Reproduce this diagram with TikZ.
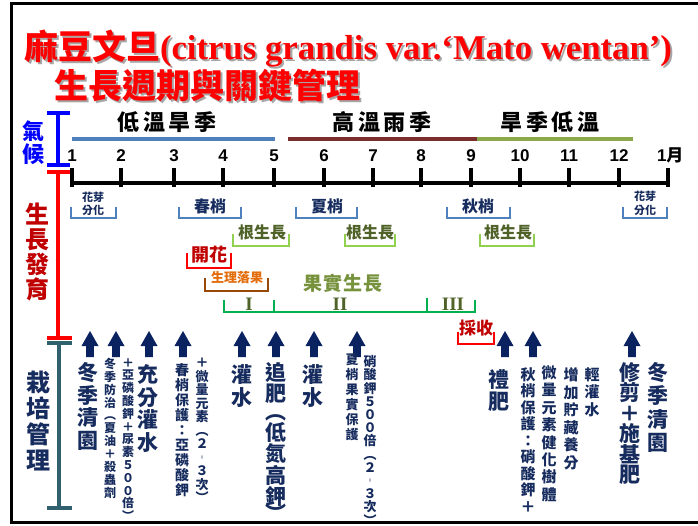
\documentclass[tikz,border=0pt]{standalone}
\usepackage{fontspec}
\usepackage{graphicx}
\newfontfamily\cjk{Noto Sans CJK TC}
\newfontfamily\arialf{Liberation Sans}
\newfontfamily\timesf{Liberation Serif}
\definecolor{txtnavy}{HTML}{172C5E}
\definecolor{arrnavy}{HTML}{0A2260}
\definecolor{brkblue}{HTML}{4F81BD}
\definecolor{barred}{HTML}{7A2E2E}
\definecolor{bargreen}{HTML}{8CA848}
\definecolor{rootgreen}{HTML}{92D050}
\definecolor{olivetxt}{HTML}{4F6228}
\definecolor{fruittxt}{HTML}{76923C}
\definecolor{darkred}{HTML}{C00000}
\definecolor{dropbrown}{HTML}{984807}
\definecolor{droporange}{HTML}{E46C0A}
\definecolor{fruitgreen}{HTML}{00B050}
\definecolor{tealbar}{HTML}{31606E}
\definecolor{pureblue}{HTML}{0000FF}
\definecolor{purered}{HTML}{FF0000}

\newdimen\vsk
\def\sk{}
\def\vtloop#1{\ifx\relax#1\else\ifx\sk#1\kern-\vsk\else\hbox to 0pt{\hss#1\hss}\fi\expandafter\vtloop\fi}
\newcommand\vcol[2]{\vtop{\baselineskip=#1\lineskiplimit=-100pt\vsk=4pt\relax\vtloop#2\relax}}
\newdimen\spk
\def\sploop#1{\ifx\relax#1\else#1\kern\spk\expandafter\sploop\fi}
\newcommand\spaced[2]{\spk=#1\relax\sploop#2\relax\kern-\spk}
\newcommand\shadowtxt[1]{\makebox[0pt][l]{\hspace{2pt}\raisebox{-2pt}{\color{black!35}#1}}#1}

\begin{document}
\begin{tikzpicture}[x=1pt,y=-1pt,
  every node/.style={inner sep=0pt,outer sep=0pt},
  vt/.style={anchor=base,text=txtnavy,font=\cjk\bfseries\fontsize{#1}{#1}\selectfont},
  cj/.style={font=\cjk\bfseries\fontsize{#1}{#1}\selectfont},
  brk/.style={line width=2.6pt},
  axisln/.style={line width=4pt,black},
  tickln/.style={line width=4.5pt,black},
  ibeam/.style={line width=3.5pt},
  seasonbar/.style={line width=4pt},
  roman/.style={font=\timesf\bfseries\fontsize{19}{19}\selectfont,text=olivetxt},
  monthnum/.style={anchor=base,font=\arialf\bfseries\fontsize{17}{17}\selectfont}]
\useasboundingbox (0,0) rectangle (698,526);
\fill[white] (0,0) rectangle (698,526);
% frame
\draw[line width=3pt] (705,4) -- (11,4) -- (11,522) -- (705,522);

% title
\node[anchor=base west,text=purered,cj=34] (title1) at (24,60)
  {\shadowtxt{麻豆文旦{\timesf\bfseries\resizebox{512pt}{!}{(citrus grandis var.‘Mato wentan’)}}}};
\node[anchor=base west,text=purered,cj=34] (title2) at (54,99) {\shadowtxt{生長週期與關鍵管理}};

% left category labels and I-beams
\node[vt=22,text=pureblue] (lab1) at (33,140) {\vcol{23pt}{氣候}};
\node[vt=24,text=darkred] (lab2) at (37,223.6) {\vcol{25pt}{生長發育}};
\node[vt=24] (lab3) at (38,391.6) {\vcol{26pt}{栽培管理}};
\draw[ibeam,pureblue] (58,113) -- (58,165) (47,113) -- (70,113) (47,165) -- (70,165);
\draw[ibeam,purered] (58,172) -- (58,338) (47,172) -- (70,172) (47,338) -- (72,338);
\draw[ibeam,tealbar] (59,343) -- (59,508) (47,343) -- (72,343) (47,508) -- (72,508);

% seasons
\node[cj=22] (s1) at (167,122) {\spaced{3.5pt}{低溫旱季}};
\node[cj=22] (s2) at (382,122) {\spaced{3.5pt}{高溫雨季}};
\node[cj=22] (s3) at (550,122) {\spaced{3.5pt}{旱季低溫}};
\draw[seasonbar,brkblue] (72,139) -- (275,139);
\draw[seasonbar,barred] (288,139) -- (477,139);
\draw[seasonbar,bargreen] (477,139) -- (633,139);

% timeline
\draw[axisln] (70,183) -- (670,183);
\foreach \tx/\lab [count=\i] in {72/1,121/2,174/3,223/4,274/5,324/6,373/7,421/8,471/9,520/10,569/11,619/12}{
  \draw[tickln] (\tx,168) -- (\tx,187);
  \node[monthnum] (m\i) at (\tx,162) {\lab};
}
\draw[tickln] (668,168) -- (668,187);
\node[anchor=base west,font=\arialf\bfseries\fontsize{17}{17}\selectfont] (m13) at (657,162) {1{\cjk 月}};

% growth: shoots
\draw[brk,brkblue] (71,207) -- (71,218) -- (116,218) -- (116,207);
\node[cj=11,text=txtnavy] (g1a) at (93,197) {花芽};
\node[cj=11,text=txtnavy] (g1b) at (93,210) {分化};
\draw[brk,brkblue] (179,207) -- (179,218) -- (241,218) -- (241,207);
\node[cj=16,text=txtnavy] (g2) at (210,206) {春梢};
\draw[brk,brkblue] (296,207) -- (296,218) -- (357,218) -- (357,207);
\node[cj=16,text=txtnavy] (g3) at (327,206) {夏梢};
\draw[brk,brkblue] (447,207) -- (447,218) -- (510,218) -- (510,207);
\node[cj=16,text=txtnavy] (g4) at (478,206) {秋梢};
\draw[brk,brkblue] (623,207) -- (623,218) -- (667,218) -- (667,207);
\node[cj=11,text=txtnavy] (g5a) at (645,196) {花芽};
\node[cj=11,text=txtnavy] (g5b) at (645,210) {分化};

% roots
\draw[brk,rootgreen] (233,234) -- (233,246) -- (289,246) -- (289,234);
\node[cj=16,text=olivetxt] (r1) at (262,232) {根生長};
\draw[brk,rootgreen] (345,234) -- (345,246) -- (395,246) -- (395,234);
\node[cj=16,text=olivetxt] (r2) at (370,232) {根生長};
\draw[brk,rootgreen] (480,234) -- (480,246) -- (534,246) -- (534,234);
\node[cj=16,text=olivetxt] (r3) at (508,232) {根生長};

% flowering, fruit drop, fruit growth
\draw[brk,purered] (187,253) -- (187,268) -- (231,268) -- (231,253);
\node[cj=18,text=darkred] (fl) at (209,255) {開花};
\draw[brk,dropbrown] (205,278) -- (205,291) -- (268,291) -- (268,278);
\node[cj=13,text=droporange] (fd) at (237,278) {生理落果};
\node[cj=19,text=fruittxt] (fg) at (343,283) {\spaced{1pt}{果實生長}};
\draw[brk,fruitgreen] (224,300) -- (224,312) -- (475,312) -- (475,300);
\draw[brk,fruitgreen] (274,300) -- (274,312) (427,298) -- (427,312);
\node[roman] (ph1) at (249,304) {I};
\node[roman] (ph2) at (340,304) {II};
\node[roman] (ph3) at (453,304) {III};
% harvest
\draw[brk,purered] (458,332) -- (458,344) -- (494,344) -- (494,332);
\node[cj=17,text=darkred] (hv) at (476,328) {採收};

% arrows
\foreach \ax in {90,116,149,183,242,276,314,357,505,533,632}{
  \fill[arrnavy] (\ax-3.8,357) -- (\ax-3.8,346) -- (\ax-8.5,346) -- (\ax,331)
     -- (\ax+8.5,346) -- (\ax+3.8,346) -- (\ax+3.8,357) -- cycle;
}

% management texts
\node[vt=21] (c1) at (88,380.5) {\vcol{22.5pt}{冬季清園}};
\node[vt=12] (c2a) at (110,368.3) {\vcol{12.9pt}{冬季防治︵夏油＋殺蟲劑}};
\node[vt=12] (c2b) at (128,367) {\vcol{12.8pt}{＋亞磷酸鉀＋尿素５００倍︶}};
\node[vt=21] (c3) at (148,382.5) {\vcol{22.7pt}{充分灌水}};
\node[vt=14] (c4a) at (182,375) {\vcol{15pt}{春梢保護：亞磷酸鉀}};
\node[vt=13] (c4b) at (202,367.7) {\vcol{13.5pt}{＋微量元素︵２︲３次︶}};
\node[vt=21] (c5) at (242,382.5) {\vcol{23pt}{灌水}};
\node[vt=21] (c6) at (276,380.5) {\vcol{21.3pt}{追肥\sk︵低氮高鉀\sk︶}};
\node[vt=21] (c7) at (313,382.5) {\vcol{23pt}{灌水}};
\node[vt=13] (c8a) at (352,364.7) {\vcol{15pt}{夏梢果實保護}};
\node[vt=13] (c8b) at (370,366.7) {\vcol{13.2pt}{硝酸鉀５００倍︵２︲３次︶}};
\node[vt=21] (c9) at (499,387.5) {\vcol{22pt}{禮肥}};
\node[vt=15] (c10a) at (528,380.4) {\vcol{16.5pt}{秋梢保護：硝酸鉀＋}};
\node[vt=15] (c10b) at (549,378.4) {\vcol{17.4pt}{微量元素健化樹體}};
\node[vt=15] (c10c) at (571,380.4) {\vcol{17.6pt}{增加貯藏養分}};
\node[vt=15] (c10d) at (592,380.4) {\vcol{17.5pt}{輕灌水}};
\node[vt=21] (c11) at (630,380.5) {\vcol{20.4pt}{修剪＋施基肥}};
\node[vt=21] (c12) at (658,380.5) {\vcol{23.3pt}{冬季清園}};
\end{tikzpicture}
\end{document}
